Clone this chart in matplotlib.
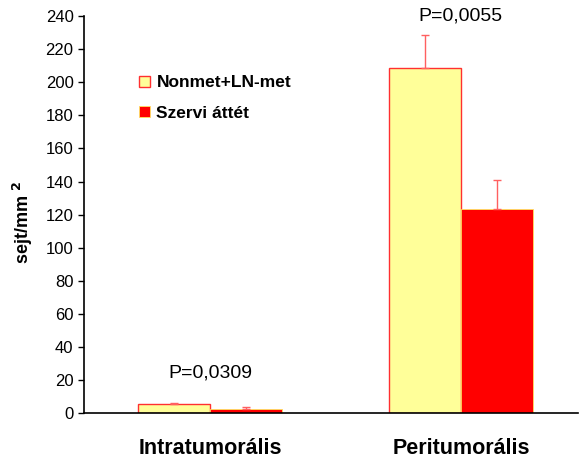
import matplotlib
matplotlib.use("Agg")
import matplotlib.pyplot as plt
import numpy as np

plt.rcParams['font.family'] = ['Liberation Sans', 'DejaVu Sans']

categories = ["Intratumorális", "Peritumorális"]
series_names = ["Nonmet+LN-met", "Szervi áttét"]
nonmet = [5.5, 208.5]
nonmet_err = [0.8, 20.0]
szervi = [2.5, 123.5]
szervi_err = [1.0, 17.5]
p_labels = ["P=0,0309", "P=0,0055"]
p_heights = [24, 240]

fig = plt.figure(figsize=(5.79, 4.61), dpi=100)
ax = fig.add_axes([0.145, 0.104, 0.853, 0.861])

x = np.arange(len(categories))
w = 0.287
ax.bar(x - w/2, nonmet, w, color="#FFFF99", edgecolor="#FF3030", linewidth=1,
       label=series_names[0], zorder=2)
ax.bar(x + w/2, szervi, w, color="#FF0000", edgecolor="#FFE060", linewidth=0.6,
       label=series_names[1], zorder=2)
ax.errorbar(x - w/2, nonmet, yerr=[np.zeros(2), nonmet_err], fmt="none",
            ecolor="#FF6060", elinewidth=1, capsize=3, zorder=3)
ax.errorbar(x + w/2, szervi, yerr=[np.zeros(2), szervi_err], fmt="none",
            ecolor="#FF6060", elinewidth=1, capsize=3, zorder=3)

for xi, lab, h in zip(x, p_labels, p_heights):
    ax.text(xi, h, lab, ha="center", va="center", fontsize=14, clip_on=False)

ax.set_xlim(-0.502, 1.466)
ax.set_ylim(0, 240)
ax.set_yticks(np.arange(0, 241, 20))
ax.set_xticks(x)
ax.set_xticklabels(categories, fontsize=15.5, fontweight="bold")
ax.tick_params(axis="x", length=0, pad=18)
ax.tick_params(axis="y", direction="out", length=4, labelsize=12, width=1)
ax.spines["top"].set_visible(False)
ax.spines["right"].set_visible(False)
ax.spines["left"].set_linewidth(1.2)
ax.spines["bottom"].set_linewidth(1.2)
ax.set_ylabel("sejt/mm $^{\\mathbf{2}}$", fontsize=13, fontweight="bold")
ax.yaxis.set_label_coords(-0.10, 0.48)

ax.legend(loc="upper left", bbox_to_anchor=(0.08, 0.89), frameon=False,
          prop={"weight": "bold", "size": 12.5}, handlelength=0.6, handleheight=0.6,
          handletextpad=0.4, labelspacing=0.9)

fig.savefig("out.png", dpi=100)
